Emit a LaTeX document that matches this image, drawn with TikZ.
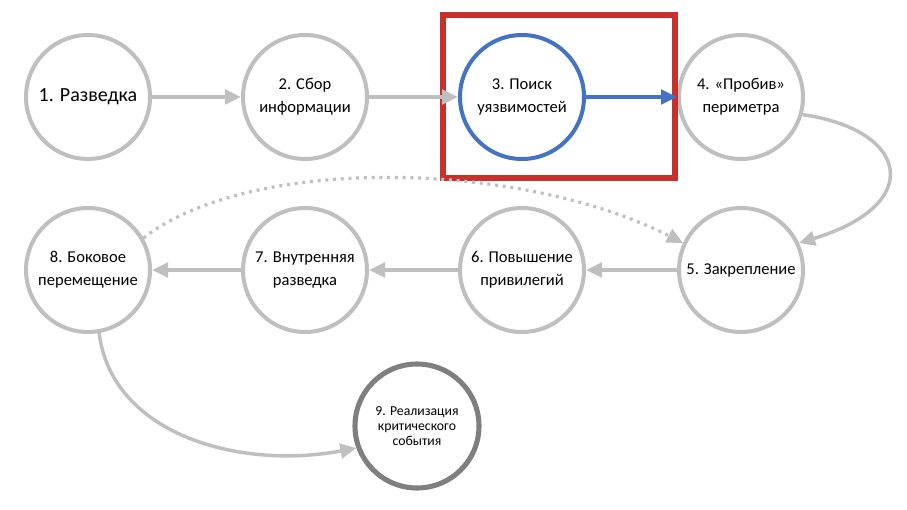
\documentclass[tikz,border=0pt]{standalone}
\usepackage{fontspec}
\setmainfont{Carlito}
\usetikzlibrary{arrows.meta}
\definecolor{cgray}{HTML}{BFBFBF}
\definecolor{dgray}{HTML}{7F7F7F}
\definecolor{cblue}{HTML}{4472C4}
\definecolor{cred}{HTML}{C9302C}
\tikzset{
  stage/.style={circle, draw=cgray, line width=3pt, fill=white, minimum size=93pt, inner sep=0pt, align=center, font=\fontsize{12.4pt}{17pt}\selectfont},
  conn/.style={draw=cgray, line width=2.6pt, -{Triangle[length=12pt,width=11pt]}},
  bconn/.style={draw=cblue, line width=2.6pt, -{Triangle[length=12pt,width=11pt]}},
  dconn/.style={draw=cgray, line width=2.4pt, dash pattern=on 2.2pt off 3.6pt, -{Triangle[length=12pt,width=11pt]}},
}
\begin{document}
\begin{tikzpicture}[x=0.75pt,y=-0.75pt]
\useasboundingbox (0,0) rectangle (907,510);
\fill[white] (0,0) rectangle (907,510);
\node[stage, font=\fontsize{15pt}{18pt}\selectfont] (n1) at (88,97) {1. Разведка};
\node[stage] (n2) at (305,97) {2. Сбор\\информации};
\node[stage, draw=cblue] (n3) at (522,97) {3. Поиск\\уязвимостей};
\node[stage] (n4) at (741,97) {4. «Пробив»\\периметра};
\node[stage] (n5) at (741,270) {5. Закрепление};
\node[stage] (n6) at (522,270) {6. Повышение\\привилегий};
\node[stage] (n7) at (305,270) {7. Внутренняя\\разведка};
\node[stage] (n8) at (88,270) {8. Боковое\\перемещение};
\node[stage, draw=dgray, line width=3.8pt, font=\fontsize{10.3pt}{11.3pt}\selectfont] (n9) at (417,426) {9. Реализация\\критического\\события};
\node[draw=cred, line width=4.5pt, minimum width=174pt, minimum height=122pt, inner sep=0pt] (box) at (558.5,96.5) {};
\draw[conn] (n1) -- (n2);
\draw[conn] (n2) -- (n3);
\draw[bconn] (n3) -- (n4);
\draw[conn] (n4.-16) .. controls (910,130) and (925,205) .. (n5.25);
\draw[conn] (n5) -- (n6);
\draw[conn] (n6) -- (n7);
\draw[conn] (n7) -- (n8);
\draw[dconn] (n8.30) .. controls (250,155) and (520,160) .. (n5.155);
\draw[conn] (n8.-80) .. controls (112,435) and (240,470) .. (n9.200);
\end{tikzpicture}
\end{document}
